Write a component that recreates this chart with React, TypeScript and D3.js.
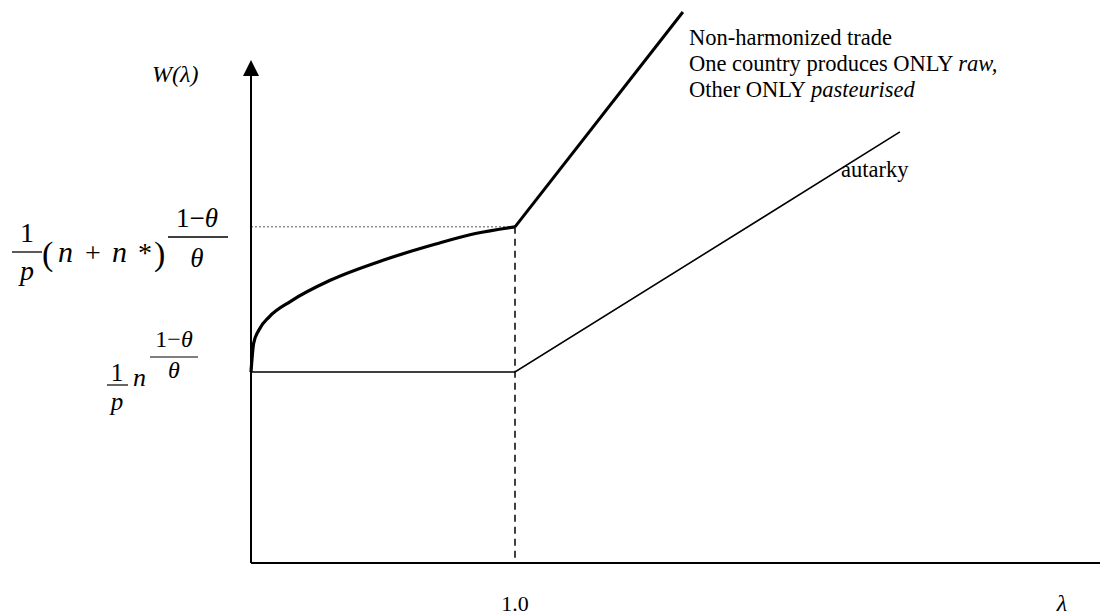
import React from 'react';
import * as d3 from 'd3';

const width = 1100
const height = 615

// welfare curves (lambda, W), W(autarky, lambda<=1) = 1
const tradeCurve: [number, number][] = [
  [0, 1.0], [0.01, 1.15], [0.03, 1.22], [0.07, 1.29], [0.15, 1.37],
  [0.3, 1.48], [0.5, 1.585], [0.7, 1.67], [0.85, 1.725], [1.0, 1.76],
]
const tradeLine: [number, number][] = [[1.0, 1.76], [1.636, 2.885]]
const autarky: [number, number][] = [[0, 1.0], [1.0, 1.0], [2.458, 2.257]]
const xTickLabels = ['1.0']
const xTicks = [1.0]

const serif = '"Liberation Serif", "Times New Roman", Times, serif'

const App = () => {
  const x = d3.scaleLinear().domain([0, 1]).range([251, 515])
  const y = d3.scaleLinear().domain([0, 1]).range([563, 372])

  const smooth = d3.line<[number, number]>()
    .x(d => x(d[0]))
    .y(d => y(d[1]))
    .curve(d3.curveMonotoneX)
  const straight = d3.line<[number, number]>()
    .x(d => x(d[0]))
    .y(d => y(d[1]))

  const x0 = x(0)
  const y0 = y(0)
  const kx = x(1)
  const ky = y(tradeCurve[tradeCurve.length - 1][1])

  return (
    <svg width={width} height={height} style={{ position: 'absolute', left: 0, top: 0, fontFamily: serif }}>
      <rect width={width} height={height} fill="#fff" />

      {/* guides */}
      <line x1={x0} x2={kx} y1={ky} y2={ky} stroke="#555" strokeWidth={1} strokeDasharray="2,2" />
      <line x1={kx} x2={kx} y1={ky} y2={y0} stroke="#000" strokeWidth={1.5} strokeDasharray="7,5" />

      {/* axes */}
      <line x1={x0} x2={x0} y1={y0} y2={72} stroke="#000" strokeWidth={2} />
      <path d={`M${x0},60 L${x0 - 8},76 L${x0 + 8},76 Z`} fill="#000" />
      <line x1={x0} x2={width} y1={y0} y2={y0} stroke="#000" strokeWidth={2} />

      {/* curves */}
      <path d={smooth(tradeCurve) || ''} fill="none" stroke="#000" strokeWidth={3.2} />
      <path d={straight(tradeLine) || ''} fill="none" stroke="#000" strokeWidth={3} />
      <path d={straight(autarky) || ''} fill="none" stroke="#000" strokeWidth={1.6} />

      <g style={{ fontFamily: serif }}>
        {/* x labels */}
        {xTicks.map((t, i) => (
          <text key={t} x={x(t)} y={611} fontSize={22} textAnchor="middle">{xTickLabels[i]}</text>
        ))}
        <text x={1062} y={611} fontSize={24} fontStyle="italic" textAnchor="middle">λ</text>

        {/* y label */}
        <text x={152} y={82} fontSize={24} fontStyle="italic">W(λ)</text>

        {/* annotations */}
        <g fontSize={22.5}>
          <text x={689} y={45}>Non-harmonized trade</text>
          <text x={689} y={71}>One country produces ONLY <tspan fontStyle="italic">raw,</tspan></text>
          <text x={689} y={97}>Other ONLY <tspan fontStyle="italic">pasteurised</tspan></text>
          <text x={841} y={177}>autarky</text>
        </g>

        {/* upper formula: 1/p (n + n*)^((1-θ)/θ) */}
        <g>
          <text x={27} y={242} fontSize={28} textAnchor="middle">1</text>
          <line x1={12} x2={42} y1={252} y2={252} stroke="#000" strokeWidth={1.3} />
          <text x={27} y={280} fontSize={28} fontStyle="italic" textAnchor="middle">p</text>
          <text x={42} y={265} fontSize={34}>(</text>
          <text x={58} y={262} fontSize={30} fontStyle="italic">n</text>
          <text x={85} y={262} fontSize={28}>+</text>
          <text x={112} y={262} fontSize={30} fontStyle="italic">n</text>
          <text x={138} y={262} fontSize={28}>*</text>
          <text x={154} y={265} fontSize={34}>)</text>
          <text x={197} y={227} fontSize={27} textAnchor="middle">1−<tspan fontStyle="italic">θ</tspan></text>
          <line x1={168} x2={228} y1={237} y2={237} stroke="#000" strokeWidth={1.3} />
          <text x={197} y={267} fontSize={27} fontStyle="italic" textAnchor="middle">θ</text>
        </g>

        {/* lower formula: 1/p n^((1-θ)/θ) */}
        <g>
          <text x={117} y={381} fontSize={25} textAnchor="middle">1</text>
          <line x1={107} x2={128} y1={385} y2={385} stroke="#000" strokeWidth={1.2} />
          <text x={117} y={410} fontSize={25} fontStyle="italic" textAnchor="middle">p</text>
          <text x={133} y={386} fontSize={26} fontStyle="italic">n</text>
          <text x={174} y={347} fontSize={24} textAnchor="middle">1−<tspan fontStyle="italic">θ</tspan></text>
          <line x1={150} x2={198} y1={357} y2={357} stroke="#000" strokeWidth={1.2} />
          <text x={174} y={378} fontSize={24} fontStyle="italic" textAnchor="middle">θ</text>
        </g>
      </g>
    </svg>
  )
}

export default App
